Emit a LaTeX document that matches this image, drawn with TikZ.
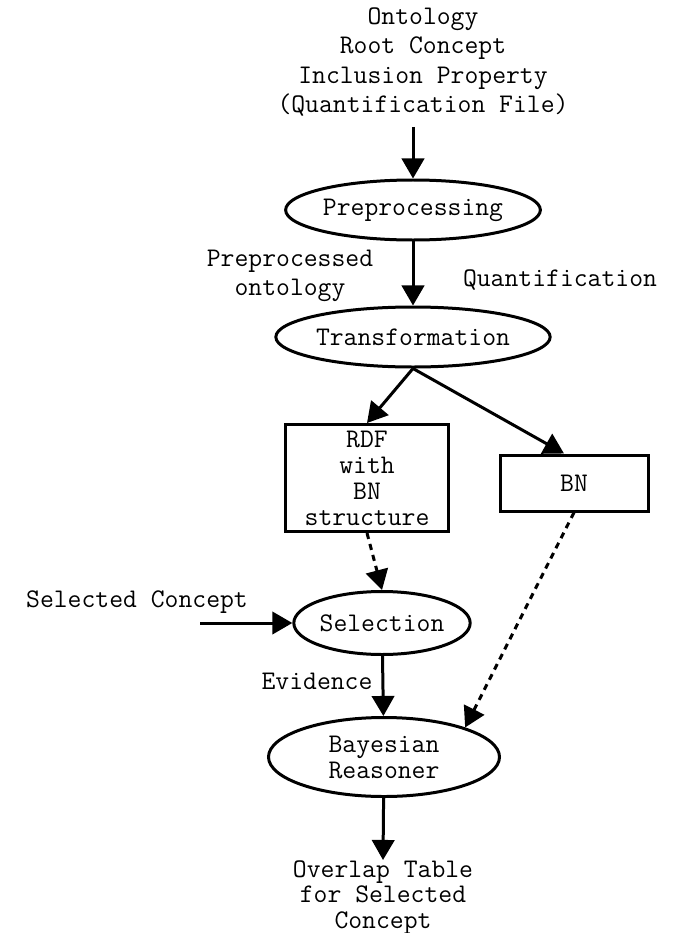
\documentclass[tikz,border=0pt]{standalone}
\usetikzlibrary{shapes.geometric,arrows.meta,positioning}
\newcommand{\pxu}{0.4237pt}

\begin{document}
\begin{tikzpicture}[x=\pxu, y=-\pxu, font=\ttfamily\fontsize{11.4}{12.5}\selectfont,
    proc/.style={draw, ellipse, line width=1.27pt, inner sep=0pt},
    store/.style={draw, rectangle, line width=1.27pt, inner sep=0pt, align=center},
    lbl/.style={align=center, inner sep=0pt},
    arr/.style={-{Triangle[length=8.5pt,width=9.5pt]}, line width=1.27pt},
    dsh/.style={arr, dash pattern=on 2.6pt off 2.2pt}]
\useasboundingbox (0,0) rectangle (674,933);

% inputs and processing chain
\node[lbl] (onto) at (423,62)
        {Ontology\\Root Concept\\Inclusion Property\\(Quantification File)};
\coordinate (ontoout) at (413,127);
\node[proc, minimum width=236*\pxu, minimum height=60*\pxu] (pre) at (413,210) {Preprocessing};
\node[lbl] (ppo) at (290,276) {Preprocessed\\ontology};
\node[lbl] (qua) at (560,280) {Quantification};
\node[proc, minimum width=272*\pxu, minimum height=60*\pxu] (tra) at (413,337) {Transformation};

\node[store, font=\ttfamily\fontsize{11.4}{11}\selectfont,
      minimum width=163*\pxu, minimum height=107*\pxu] (rdf) at (367,478) {RDF\\with\\BN\\structure};
\node[store, minimum width=148*\pxu, minimum height=56*\pxu] (bn) at (574,483) {BN};

\node[lbl] (selc) at (137,602) {Selected Concept};
\coordinate (selin) at (200,623);
\node[proc, minimum width=161*\pxu, minimum height=63*\pxu] (sel) at (382,623) {Selection};
\node[lbl] (evi) at (317,681) {Evidence};
\node[proc, font=\ttfamily\fontsize{11.4}{11}\selectfont,
      minimum width=231*\pxu, minimum height=79*\pxu, align=center] (bay) at (384,757) {Bayesian\\Reasoner};
\node[lbl, font=\ttfamily\fontsize{11.4}{10.8}\selectfont, anchor=north] (res) at (383,860)
        {Overlap Table\\for Selected\\Concept};

% connectors
\draw[arr] (ontoout) -- (pre);
\draw[arr] (pre) -- (tra);
\draw[arr] (tra.south) -- (rdf.north);
\draw[arr] (tra.south) -- ([xshift=-10*\pxu]bn.north);
\draw[dsh] (rdf.south) -- (sel.north);
\draw[arr] (selin) -- (sel);
\draw[arr] (sel) -- (bay);
\draw[dsh] (bn.south) -- (bay.20);
\draw[arr] (bay) -- (res.north);
\end{tikzpicture}
\end{document}
